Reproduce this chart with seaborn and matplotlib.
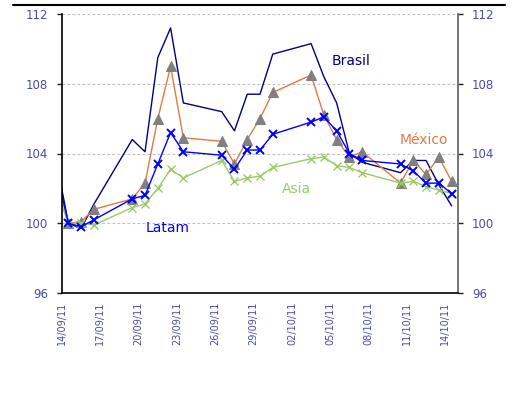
import matplotlib
matplotlib.use("Agg")
import matplotlib.pyplot as plt
import matplotlib.dates as mdates
from matplotlib.lines import Line2D
import pandas as pd
import seaborn as sns

# Daily index values (base 100 on 14/09/11)
dates = ['13/09/11', '14/09/11', '15/09/11', '16/09/11', '19/09/11', '20/09/11',
         '21/09/11', '22/09/11', '23/09/11', '26/09/11', '27/09/11', '28/09/11',
         '29/09/11', '30/09/11', '03/10/11', '04/10/11', '05/10/11', '06/10/11',
         '07/10/11', '10/10/11', '11/10/11', '12/10/11', '13/10/11', '14/10/11']
brasil = [103.8, 100.0, 99.7, 101.1, 104.8, 104.1, 109.5, 111.2, 106.9, 106.4, 105.3, 107.4,
          107.4, 109.7, 110.3, 108.4, 106.9, 104.0, 103.5, 102.9, 103.6, 103.6, 102.2, 101.0]
mexico = [102.8, 100.0, 100.1, 100.8, 101.4, 102.3, 106.0, 109.0, 104.9, 104.7, 103.4, 104.8,
          106.0, 107.5, 108.5, 106.2, 104.8, 103.8, 104.1, 102.3, 103.6, 102.8, 103.8, 102.4]
asia = [102.0, 100.0, 100.0, 99.9, 100.9, 101.1, 102.0, 103.1, 102.6, 103.6, 102.4, 102.6,
        102.7, 103.2, 103.7, 103.8, 103.3, 103.2, 102.9, 102.3, 102.4, 102.1, 101.9, 101.7]
latam = [103.2, 100.0, 99.8, 100.2, 101.4, 101.6, 103.4, 105.2, 104.1, 103.9, 103.1, 104.2,
         104.2, 105.1, 105.8, 106.1, 105.3, 104.0, 103.6, 103.4, 103.0, 102.3, 102.3, 101.7]

y_ticks = [96, 100, 104, 108, 112]
x_start, x_end = '14/09/11', '15/10/11'

sns.set_style("white")
plt.rcParams['font.family'] = ['DejaVu Sans']

tick_color = '#4b4bad'

# each point sits in the middle of its day slot
x = pd.to_datetime(dates, format='%d/%m/%y') + pd.Timedelta(hours=12)
df = pd.DataFrame({'fecha': x, 'Brasil': brasil, 'México': mexico,
                   'Asia': asia, 'Latam': latam})

fig = plt.figure(figsize=(5.14, 3.93), dpi=100)
ax = fig.add_axes([62 / 514, 1 - 293 / 393, (458 - 62) / 514, (293 - 14) / 393])

sns.lineplot(data=df, x='fecha', y='Brasil', ax=ax, color='#000080', lw=1.0)
sns.lineplot(data=df, x='fecha', y='México', ax=ax, color='#e07b45', lw=1.0,
             marker='^', markersize=6.5, markerfacecolor='#808080',
             markeredgecolor='#808080')
sns.lineplot(data=df, x='fecha', y='Asia', ax=ax, color='#99cc66', lw=1.0,
             marker='x', markersize=6, markeredgewidth=1.0, markeredgecolor='#99cc66')
sns.lineplot(data=df, x='fecha', y='Latam', ax=ax, color='#0000ff', lw=1.0,
             marker='x', markersize=5.5, markeredgewidth=1.4, markeredgecolor='#0000ff')

t0 = pd.to_datetime(x_start, format='%d/%m/%y')
t1 = pd.to_datetime(x_end, format='%d/%m/%y')
ax.set_xlim(t0, t1)
ax.set_ylim(y_ticks[0], y_ticks[-1])
ax.set_xticks(pd.date_range(t0, t0 + pd.Timedelta(days=30), freq='3D'))
ax.xaxis.set_major_formatter(mdates.DateFormatter('%d/%m/%y'))
ax.set_yticks(y_ticks)
ax.set_xlabel('')
ax.set_ylabel('')

for v in y_ticks[1:]:
    ax.axhline(v, color='#c0c0c0', lw=0.8, ls=(0, (2.5, 2)), zorder=0)

ax.tick_params(axis='y', which='both', left=True, right=True, labelleft=True,
               labelright=True, direction='out', length=3.6, width=1,
               color='#202020', labelcolor=tick_color, labelsize=8.5, pad=6.4)
ax.tick_params(axis='x', direction='out', length=3, width=1, color='#303030',
               labelcolor=tick_color, labelsize=7, labelrotation=90, pad=3)

for side in ['left', 'bottom']:
    ax.spines[side].set_color('black')
    ax.spines[side].set_linewidth(1.2)
ax.spines['right'].set_color('#606060')
ax.spines['right'].set_linewidth(1.2)
ax.spines['top'].set_visible(False)

# series names next to their lines
def day(s, offset):
    return pd.to_datetime(s, format='%d/%m/%y') + pd.Timedelta(days=offset)

ax.text(day('05/10/11', 0.1), 109.3, 'Brasil', color='#000080', fontsize=10, va='center')
ax.text(day('10/10/11', 0.45), 104.75, 'México', color='#e07b45', fontsize=10, va='center')
ax.text(day('01/10/11', 0.25), 101.95, 'Asia', color='#99cc66', fontsize=10, va='center')
ax.text(day('20/09/11', 0.55), 99.72, 'Latam', color='#0000ff', fontsize=10, va='center')

# top border rule
fig.add_artist(Line2D([13 / 514, 505 / 514], [1 - 5 / 393, 1 - 5 / 393],
                      color='black', lw=1.5, transform=fig.transFigure))

fig.savefig('out.png', dpi=100, facecolor='white')
